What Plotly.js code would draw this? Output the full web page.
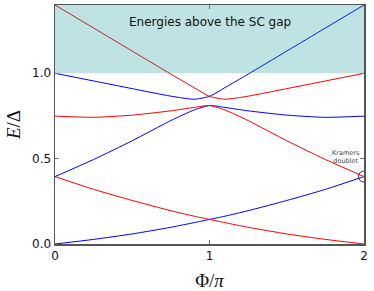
<!DOCTYPE html>
<html>
<head>
<meta charset="utf-8">
<script src="https://cdn.plot.ly/plotly-3.0.1.min.js"></script>
<style>html,body{margin:0;padding:0;background:#fff;}#chart{width:374px;height:291px;}</style>
</head>
<body>
<div id="chart"></div>
<script>
// Phase Φ/π sample points
const phi = [0, 0.25, 0.5, 0.75, 0.9, 1.0, 1.1, 1.25, 1.5, 1.75, 2];
// Energy levels E/Δ (blue and red branches)
const blueLow  = [0, 0.027, 0.059, 0.098, 0.125, 0.144, 0.163, 0.195, 0.255, 0.32, 0.395];
const redLow   = [0.395, 0.32, 0.255, 0.195, 0.163, 0.144, 0.125, 0.098, 0.059, 0.027, 0];
const blueMid  = [0.395, 0.495, 0.605, 0.723, 0.785, 0.811, 0.800, 0.780, 0.755, 0.742, 0.749];
const redMid   = [0.749, 0.742, 0.755, 0.780, 0.800, 0.811, 0.785, 0.723, 0.605, 0.495, 0.395];
const blueHigh = [1.0, 0.955, 0.910, 0.866, 0.848, 0.865, 0.916, 0.995, 1.13, 1.265, 1.4];
const redHigh  = [1.4, 1.265, 1.13, 0.995, 0.916, 0.865, 0.848, 0.866, 0.910, 0.955, 1.0];

const xTicks = [0, 1, 2];
const xTickText = ['0', '1', '2'];
const yTicks = [0, 0.5, 1.0];
const yTickText = ['0.0', '0.5', '1.0'];

const gapLevel = 1.0;
const yMax = 1.4;
const kramersPhi = 2;
const kramersE = 0.395;

const BLUE = '#0000ff', RED = '#ff0000';
function tr(y, c) {
  return {x: phi, y: y, type: 'scatter', mode: 'lines',
          line: {color: c, width: 1, shape: 'spline', smoothing: 0.6},
          hoverinfo: 'skip', showlegend: false};
}
const data = [
  tr(blueLow, BLUE), tr(redLow, RED),
  tr(blueMid, BLUE), tr(redMid, RED),
  tr(blueHigh, BLUE), tr(redHigh, RED)
];

const axisCommon = {
  showgrid: false, zeroline: false, showline: true, linecolor: '#555', linewidth: 1.5,
  mirror: 'ticks', ticks: 'inside', ticklen: 4, tickcolor: '#777', tickwidth: 1,
  tickfont: {family: 'DejaVu Sans', size: 12, color: '#111'}
};

const layout = {
  width: 374, height: 291,
  margin: {l: 55, r: 10, t: 5, b: 47},
  paper_bgcolor: '#fff', plot_bgcolor: '#fff',
  xaxis: Object.assign({}, axisCommon, {
    range: [0, 2], tickmode: 'array', tickvals: xTicks, ticktext: xTickText,
    title: {text: 'Φ/<i>π</i>', font: {family: 'Liberation Serif', size: 19, color: '#111'}, standoff: 12}
  }),
  yaxis: Object.assign({}, axisCommon, {
    range: [0, yMax], tickmode: 'array', tickvals: yTicks, ticktext: yTickText,
    title: {text: '<i>E</i>/Δ', font: {family: 'Liberation Serif', size: 19, color: '#111'}, standoff: 6}
  }),
  shapes: [
    {type: 'rect', xref: 'paper', x0: 0, x1: 1, yref: 'y', y0: gapLevel, y1: yMax,
     fillcolor: 'rgba(0,139,139,0.25)', line: {width: 0}, layer: 'above'},
    {type: 'circle', xref: 'x', yref: 'y', xsizemode: 'pixel', ysizemode: 'pixel',
     xanchor: kramersPhi, yanchor: kramersE, x0: -5.5, x1: 5.5, y0: -5.5, y1: 5.5,
     line: {color: '#333', width: 1}, layer: 'above'}
  ],
  annotations: [
    {text: 'Energies above the SC gap', x: 1.0, y: 1.30, xref: 'x', yref: 'y',
     showarrow: false, font: {family: 'DejaVu Sans', size: 12, color: '#111'}},
    {text: 'Kramers<br>doublet', x: 1.883, y: 0.512, xref: 'x', yref: 'y',
     showarrow: false, align: 'center', font: {family: 'DejaVu Sans', size: 6.5, color: '#444'}}
  ]
};

Plotly.newPlot('chart', data, layout, {staticPlot: true, displayModeBar: false});
</script>
</body>
</html>
